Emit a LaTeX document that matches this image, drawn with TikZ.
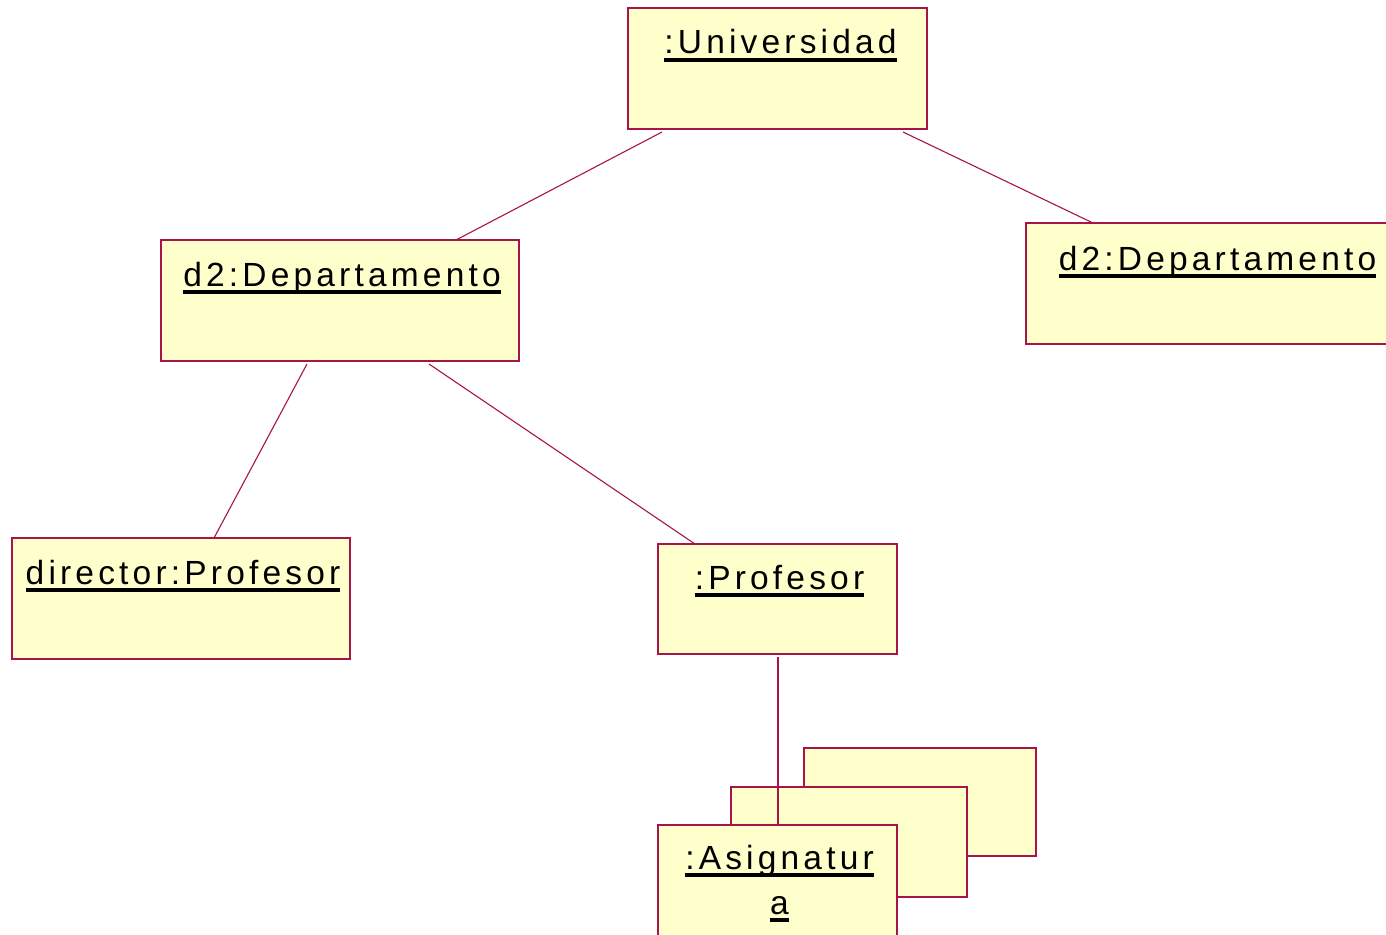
\documentclass[tikz,border=0pt]{standalone}
\usepackage{fontspec}
\setmainfont[LetterSpace=12.5]{Liberation Sans}
\definecolor{objline}{RGB}{168,20,72}
\definecolor{objfill}{RGB}{255,255,204}
% underlined object name with a heavy rule
\newcommand\objname[1]{\setbox0=\hbox{#1}\rlap{\rule[-7.8pt]{\wd0}{4.2pt}}\box0}
\tikzset{
  obj/.style={draw=objline, fill=objfill, line width=1.2pt, inner sep=0pt, outer sep=0pt, anchor=north west},
  lbl/.style={anchor=base, inner sep=0pt, font=\fontsize{33.5}{45}\selectfont, align=center},
  link/.style={draw=objline, line width=1.1pt}
}
\begin{document}
\begin{tikzpicture}[x=1pt,y=-1pt]
\clip (0,0) rectangle (1386,934);
\fill[white] (0,0) rectangle (1386,934);

% object boxes
\node[obj, minimum width=299pt, minimum height=121pt] (u) at (628,8) {};
\node[obj, minimum width=358pt, minimum height=121pt] (dl) at (161,240) {};
\node[obj, minimum width=381pt, minimum height=121pt] (dr) at (1026,223) {};
\node[obj, minimum width=338pt, minimum height=121pt] (dir) at (12,538) {};
\node[obj, minimum width=239pt, minimum height=110pt] (pr) at (658,544) {};

% multi-object stack, link to the front object crosses the middle one
\node[obj, minimum width=232pt, minimum height=108pt] (as3) at (804,748) {};
\node[obj, minimum width=236pt, minimum height=110pt] (as2) at (731,787) {};
\coordinate (astop) at (778,825);
\draw[link] ([xshift=120pt,yshift=-3pt]pr.south west) -- (astop);
\node[obj, minimum width=239pt, minimum height=112pt] (as) at (658,825) {};

% labels
\node[lbl] (tu) at ([yshift=-46pt,xshift=3pt]u.north) {\objname{:Universidad}};
\node[lbl] (tdl) at ([yshift=-46pt,xshift=2pt]dl.north) {\objname{d2:Departamento}};
\node[lbl] (tdr) at ([yshift=-47pt,xshift=1pt]dr.north) {\objname{d2:Departamento}};
\node[lbl] (tdir) at ([yshift=-46pt,xshift=2pt]dir.north) {\objname{director:Profesor}};
\node[lbl] (tpr) at ([yshift=-45pt,xshift=2pt]pr.north) {\objname{:Profesor}};
\node[lbl, anchor=north] (tas) at ([yshift=-20pt,xshift=2pt]as.north) {\objname{:Asignatur}\\\objname{a}};

% links
\draw[link] ([xshift=34pt,yshift=-3pt]u.south west) -- ([xshift=295pt]dl.north west);
\draw[link] ([xshift=275pt,yshift=-3pt]u.south west) -- ([xshift=67pt]dr.north west);
\draw[link] ([xshift=146pt,yshift=-3pt]dl.south west) -- ([xshift=202pt]dir.north west);
\draw[link] ([xshift=268pt,yshift=-3pt]dl.south west) -- ([xshift=37pt]pr.north west);
\end{tikzpicture}
\end{document}
